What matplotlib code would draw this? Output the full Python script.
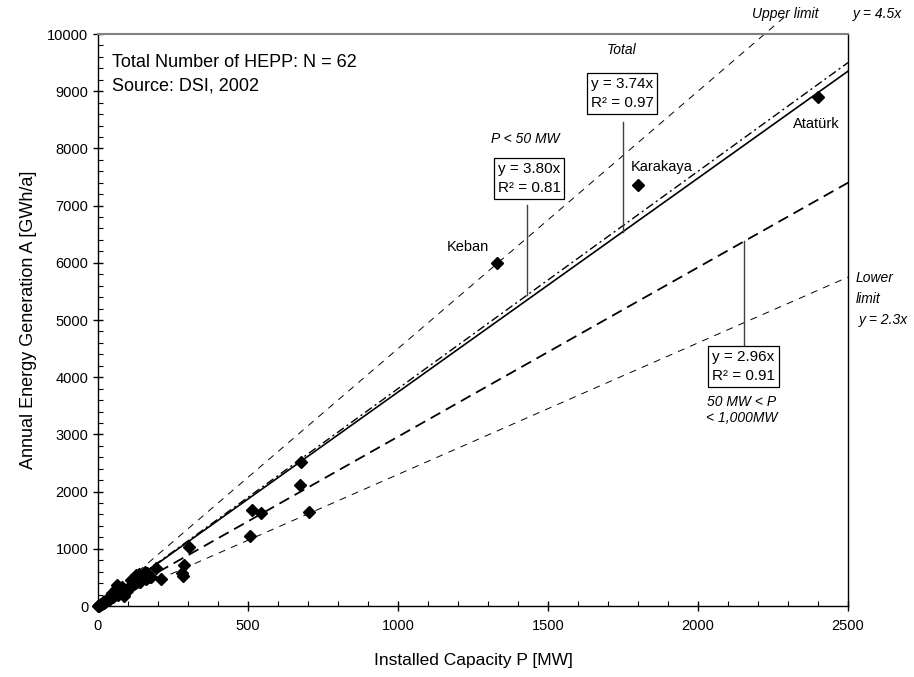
import matplotlib
matplotlib.use("Agg")
import matplotlib.pyplot as plt
import numpy as np
from matplotlib.ticker import MultipleLocator

plt.rcParams['font.family'] = ['Liberation Sans', 'DejaVu Sans']
plt.rcParams['lines.scale_dashes'] = False

# ---- data ----
capacity_mw = [2400, 1800, 1330, 675, 672, 703, 544, 514, 505, 302, 287, 284, 280,
               209, 192, 164, 160, 150, 140, 130, 125, 120, 110, 105, 100, 95, 90,
               85, 80, 75, 70, 64, 60, 58, 55, 50, 48, 45, 40, 38, 35, 30, 28, 25,
               22, 20, 18, 15, 12, 10, 8, 6, 5, 4, 3, 2, 1, 175, 155, 135, 115, 68]
energy_gwh = [8900, 7354, 6000, 2520, 2120, 1638, 1620, 1673, 1218, 1037, 717, 530, 570,
              480, 660, 570, 470, 520, 420, 500, 540, 380, 450, 350, 300, 260, 250,
              180, 330, 280, 230, 370, 300, 200, 240, 160, 220, 190, 150, 130, 110, 120, 90, 80,
              70, 60, 75, 50, 40, 35, 25, 20, 15, 12, 10, 6, 4, 500, 600, 560, 430, 200]

labels = ["Keban", "Karakaya", "Atatürk"]

slope_upper = 4.5
slope_lower = 2.3
slope_total = 3.74
slope_small = 3.80
slope_mid = 2.96
r2_total = 0.97
r2_small = 0.81
r2_mid = 0.91

# ---- figure ----
fig = plt.figure(figsize=(9.14, 6.77), dpi=100)
W, H = 914, 677
ax = fig.add_axes([98 / W, (H - 606) / H, 750 / W, 572 / H])
ax.set_xlim(0, 2500)
ax.set_ylim(0, 10000)

x_full = np.array([0, 2500])
# limits
x_up = np.array([0, 2290])
ax.plot(x_up, slope_upper * x_up, color='black', lw=0.7, dashes=[5, 4.5], clip_on=False)
ax.plot(x_full, slope_lower * x_full, color='black', lw=0.7, dashes=[5, 4.5])
# regressions
ax.plot(x_full, slope_mid * x_full, color='black', lw=1.3, dashes=[8, 4.5])
ax.plot(x_full, slope_small * x_full, color='black', lw=1.0, dashes=[6, 2.5, 1.5, 2.5])
ax.plot(x_full, slope_total * x_full, color='black', lw=1.2)

ax.plot(capacity_mw, energy_gwh, linestyle='none', marker='D', ms=6.5,
        color='black', zorder=5, clip_on=False)

# ---- axes styling ----
ax.xaxis.set_major_locator(MultipleLocator(500))
ax.xaxis.set_minor_locator(MultipleLocator(100))
ax.yaxis.set_major_locator(MultipleLocator(1000))
ax.yaxis.set_minor_locator(MultipleLocator(200))
ax.tick_params(which='major', direction='inout', length=7, width=1, labelsize=10.5, colors='black')
ax.tick_params(which='minor', direction='in', length=3.5, width=0.8)
ax.tick_params(axis='x', pad=6)
for s in ax.spines.values():
    s.set_linewidth(1.0)
ax.spines['top'].set_color('#808080')
ax.spines['top'].set_linewidth(1.5)

ax.set_xlabel("Installed Capacity P [MW]", fontsize=12.5, labelpad=14)
ax.set_ylabel("Annual Energy Generation A [GWh/a]", fontsize=13, labelpad=7)

# ---- annotations ----
ax.text(47, 9510, "Total Number of HEPP: N = 62", fontsize=13, va='center', ha='left')
ax.text(47, 9091, "Source: DSI, 2002", fontsize=13, va='center', ha='left')

box = dict(boxstyle='square,pad=0.25', fc='white', ec='black', lw=0.9)

# Total
ax.text(1747, 9720, "Total", fontsize=10, style='italic', ha='center', va='center')
ax.text(1747, 8960, f"y = {slope_total:.2f}x\nR² = {r2_total:.2f}", fontsize=11,
        ha='center', va='center', bbox=box, linespacing=1.5)
px = 1749
ax.plot([px, px], [8467, slope_total * px], color='#404040', lw=1.0)

# P < 50 MW
ax.text(1423, 8164, "P < 50 MW", fontsize=10, style='italic', ha='center', va='center')
ax.text(1437, 7474, f"y = {slope_small:.2f}x\nR² = {r2_small:.2f}", fontsize=11,
        ha='center', va='center', bbox=box, linespacing=1.5)
px = 1429
ax.plot([px, px], [7010, slope_small * px], color='#404040', lw=1.0)

# 50 < P < 1000
ax.text(2152, 4190, f"y = {slope_mid:.2f}x\nR² = {r2_mid:.2f}", fontsize=11,
        ha='center', va='center', bbox=box, linespacing=1.5)
ax.text(2145, 3560, "50 MW < P", fontsize=10, style='italic', ha='center', va='center')
ax.text(2145, 3280, "< 1,000MW", fontsize=10, style='italic', ha='center', va='center')
px = 2153
ax.plot([px, px], [4560, slope_mid * px], color='#404040', lw=1.0)

# limits text
ax.text(2526, 5734, "Lower", fontsize=10, style='italic', ha='left', va='center', clip_on=False)
ax.text(2526, 5367, "limit", fontsize=10, style='italic', ha='left', va='center', clip_on=False)
ax.text(2537, 5000, "y = 2.3x", fontsize=10, style='italic', ha='left', va='center', clip_on=False)
ax.text(2180, 10350, "Upper limit", fontsize=10, style='italic', ha='left', va='center', clip_on=False)
ax.text(2517, 10350, "y = 4.5x", fontsize=10, style='italic', ha='left', va='center', clip_on=False)

# plant labels
ax.text(1303, 6282, labels[0], fontsize=10.5, ha='right', va='center')
ax.text(1777, 7675, labels[1], fontsize=10.5, ha='left', va='center')
ax.text(2317, 8427, labels[2], fontsize=10.5, ha='left', va='center')

fig.savefig("out.png", dpi=100)
